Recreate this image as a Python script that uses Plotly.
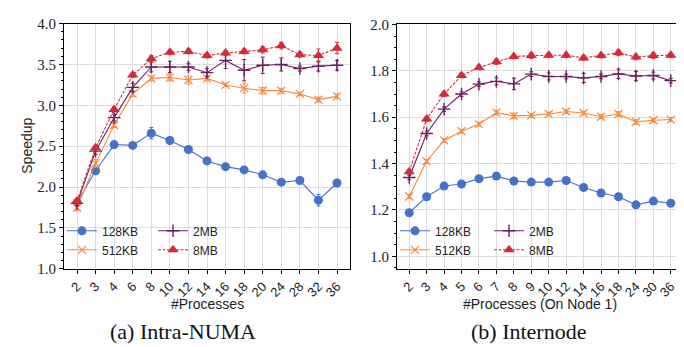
import plotly.graph_objects as go

# ---------------- data ----------------
procs_a = ["2", "3", "4", "6", "8", "10", "12", "14", "16", "18", "20", "24", "28", "32", "36"]
a_128kb = [1.81, 2.20, 2.52, 2.51, 2.66, 2.57, 2.46, 2.32, 2.25, 2.21, 2.15, 2.06, 2.08, 1.84, 2.05]
a_512kb = [1.75, 2.29, 2.76, 3.14, 3.33, 3.34, 3.31, 3.33, 3.25, 3.21, 3.18, 3.18, 3.14, 3.07, 3.11]
a_2mb = [1.80, 2.44, 2.85, 3.22, 3.47, 3.47, 3.47, 3.40, 3.55, 3.43, 3.49, 3.50, 3.45, 3.48, 3.49]
a_8mb = [1.83, 2.48, 2.95, 3.37, 3.57, 3.65, 3.66, 3.61, 3.64, 3.66, 3.68, 3.73, 3.62, 3.61, 3.70]
a_128kb_err = [0.03, 0.04, 0.04, 0.02, 0.07, 0.04, 0.03, 0.02, 0.02, 0.02, 0.02, 0.02, 0.02, 0.07, 0.03]
a_512kb_err = [0.04, 0.05, 0.03, 0.03, 0.03, 0.04, 0.05, 0.03, 0.02, 0.06, 0.04, 0.03, 0.02, 0.03, 0.03]
a_2mb_err = [0.03, 0.04, 0.04, 0.05, 0.06, 0.07, 0.04, 0.05, 0.10, 0.13, 0.10, 0.08, 0.03, 0.06, 0.06]
a_8mb_err = [0.03, 0.03, 0.03, 0.03, 0.04, 0.03, 0.03, 0.03, 0.03, 0.03, 0.04, 0.04, 0.03, 0.08, 0.07]

procs_b = ["2", "3", "4", "5", "6", "7", "8", "9", "10", "12", "14", "16", "18", "24", "30", "36"]
b_128kb = [1.188, 1.257, 1.303, 1.312, 1.335, 1.346, 1.325, 1.320, 1.320, 1.327, 1.297, 1.273, 1.257, 1.222, 1.238, 1.229]
b_512kb = [1.258, 1.410, 1.500, 1.540, 1.570, 1.620, 1.606, 1.608, 1.614, 1.625, 1.618, 1.602, 1.614, 1.580, 1.587, 1.590]
b_2mb = [1.340, 1.530, 1.635, 1.700, 1.743, 1.755, 1.744, 1.786, 1.776, 1.776, 1.770, 1.776, 1.787, 1.778, 1.780, 1.758]
b_8mb = [1.365, 1.592, 1.700, 1.780, 1.815, 1.840, 1.862, 1.866, 1.868, 1.868, 1.856, 1.866, 1.878, 1.860, 1.866, 1.868]
b_128kb_err = [0.005] * 16
b_512kb_err = [0.008, 0.008, 0.008, 0.008, 0.008, 0.010, 0.012, 0.008, 0.008, 0.008, 0.008, 0.008, 0.010, 0.010, 0.008, 0.008]
b_2mb_err = [0.010, 0.010, 0.010, 0.010, 0.010, 0.015, 0.025, 0.010, 0.015, 0.010, 0.020, 0.010, 0.020, 0.020, 0.015, 0.010]
b_8mb_err = [0.010, 0.010, 0.010, 0.010, 0.010, 0.012, 0.010, 0.012, 0.010, 0.010, 0.010, 0.010, 0.012, 0.012, 0.012, 0.010]

series_names = ["128KB", "512KB", "2MB", "8MB"]

# ---------------- styles ----------------
W, H = 684, 347
C_BLUE = "#4472c8"
C_ORANGE = "#f5883a"
C_PURPLE = "#6b1d5e"
C_RED = "#d62a3a"

styles = {
    "128KB": dict(color=C_BLUE, symbol="circle", size=9, dash="solid", lw=0),
    "512KB": dict(color=C_ORANGE, symbol="x-thin", size=8, dash="solid", lw=1.2),
    "2MB": dict(color=C_PURPLE, symbol="cross-thin", size=9, dash="solid", lw=1.4),
    "8MB": dict(color=C_RED, symbol="triangle-up", size=10, dash="3px,1.5px", lw=0),
}

def px_x(p):
    return p / W

def px_y(p):
    return 1 - p / H

fig = go.Figure()

def add_series(xs, ys, errs, name, xa, ya, legend, show):
    st = styles[name]
    fig.add_trace(go.Scatter(
        x=xs, y=ys, name=name, mode="lines+markers",
        xaxis=xa, yaxis=ya, legend=legend, showlegend=show,
        line=dict(color=st["color"], width=1.1, dash=st["dash"]),
        marker=dict(symbol=st["symbol"], size=st["size"], color=st["color"],
                    line=dict(color=st["color"], width=st["lw"])),
        error_y=dict(type="data", array=errs, visible=True, color=st["color"],
                     thickness=1, width=2),
    ))

a_vals = [a_128kb, a_512kb, a_2mb, a_8mb]
a_errs = [a_128kb_err, a_512kb_err, a_2mb_err, a_8mb_err]
b_vals = [b_128kb, b_512kb, b_2mb, b_8mb]
b_errs = [b_128kb_err, b_512kb_err, b_2mb_err, b_8mb_err]
leg_a = ["legend", "legend", "legend2", "legend2"]
leg_b = ["legend3", "legend3", "legend4", "legend4"]

for i, n in enumerate(series_names):
    add_series(procs_a, a_vals[i], a_errs[i], n, "x", "y", leg_a[i], True)
for i, n in enumerate(series_names):
    add_series(procs_b, b_vals[i], b_errs[i], n, "x2", "y2", leg_b[i], True)

SANS = "Liberation Sans, Arial, sans-serif"
SERIF = "Liberation Serif, Times New Roman, serif"
GRID = "#dcdcdc"

def xaxis_cfg(domain, cats):
    return dict(
        domain=domain, type="category", categoryorder="array", categoryarray=cats,
        range=[-0.7, len(cats) - 0.3],
        showgrid=True, gridcolor=GRID, gridwidth=1,
        showline=True, linecolor="black", linewidth=1, mirror=True,
        ticks="outside", ticklen=4, tickcolor="black", tickwidth=1,
        tickangle=-45, tickfont=dict(family=SANS, size=13, color="#222"),
        zeroline=False,
    )

def yaxis_cfg(anchor, rng, dtick, minor_dtick, fmt):
    return dict(
        domain=[px_y(265), px_y(8)], anchor=anchor, range=rng,
        dtick=dtick, tick0=0, tickformat=fmt,
        showgrid=True, gridcolor=GRID, gridwidth=1,
        showline=True, linecolor="black", linewidth=1, mirror=True,
        ticks="outside", ticklen=4, tickcolor="black", tickwidth=1,
        tickfont=dict(family=SERIF, size=15, color="#222"),
        minor=dict(ticks="outside", ticklen=2, dtick=minor_dtick, tick0=0,
                   tickcolor="black", showgrid=False),
        zeroline=False,
    )

fig.update_layout(
    width=W, height=H,
    margin=dict(l=0, r=0, t=0, b=0),
    paper_bgcolor="white", plot_bgcolor="white",
    xaxis=dict(**xaxis_cfg([px_x(56), px_x(342)], procs_a), anchor="y"),
    yaxis=yaxis_cfg("x", [1.0, 4.0], 0.5, 0.1, ".1f"),
    xaxis2=dict(**xaxis_cfg([px_x(389), px_x(675)], procs_b), anchor="y2"),
    yaxis2=yaxis_cfg("x2", [0.946, 2.004], 0.2, 0.05, ".1f"),
    showlegend=True,
)

leg_common = dict(
    bgcolor="rgba(0,0,0,0)", borderwidth=0,
    font=dict(family=SANS, size=12, color="#222"),
    xanchor="left", yanchor="top", tracegroupgap=0, itemwidth=30,
)
fig.update_layout(
    legend=dict(**leg_common, x=px_x(54), y=px_y(210)),
    legend2=dict(**leg_common, x=px_x(145), y=px_y(210)),
    legend3=dict(**leg_common, x=px_x(387), y=px_y(210)),
    legend4=dict(**leg_common, x=px_x(481), y=px_y(210)),
)

# white legend backgrounds (hide the grid behind the legends)
for x0, x1 in [(57, 222), (390, 538)]:
    fig.add_shape(type="rect", xref="paper", yref="paper",
                  x0=px_x(x0), x1=px_x(x1), y0=px_y(264), y1=px_y(214),
                  fillcolor="rgba(255,255,255,0.85)", line=dict(width=0), layer="between")

# axis titles
title_font = dict(family=SANS, size=14, color="#222222")
fig.add_annotation(text="#Processes", xref="paper", yref="paper",
                   x=px_x(199), y=px_y(302), showarrow=False,
                   xanchor="center", yanchor="middle", font=title_font)
fig.add_annotation(text="#Processes (On Node 1)", xref="paper", yref="paper",
                   x=px_x(532), y=px_y(302), showarrow=False,
                   xanchor="center", yanchor="middle", font=title_font)
fig.add_annotation(text="Speedup", xref="paper", yref="paper",
                   x=px_x(19), y=px_y(136), showarrow=False, textangle=-90,
                   xanchor="center", yanchor="middle", font=title_font)

# captions
cap_font = dict(family=SERIF, size=22, color="#111111")
fig.add_annotation(text="(a) Intra-NUMA", xref="paper", yref="paper",
                   x=px_x(175), y=px_y(331), showarrow=False,
                   xanchor="center", yanchor="middle", font=cap_font)
fig.add_annotation(text="(b) Internode", xref="paper", yref="paper",
                   x=px_x(520), y=px_y(331), showarrow=False,
                   xanchor="center", yanchor="middle", font=cap_font)

fig.write_html("out.html")
